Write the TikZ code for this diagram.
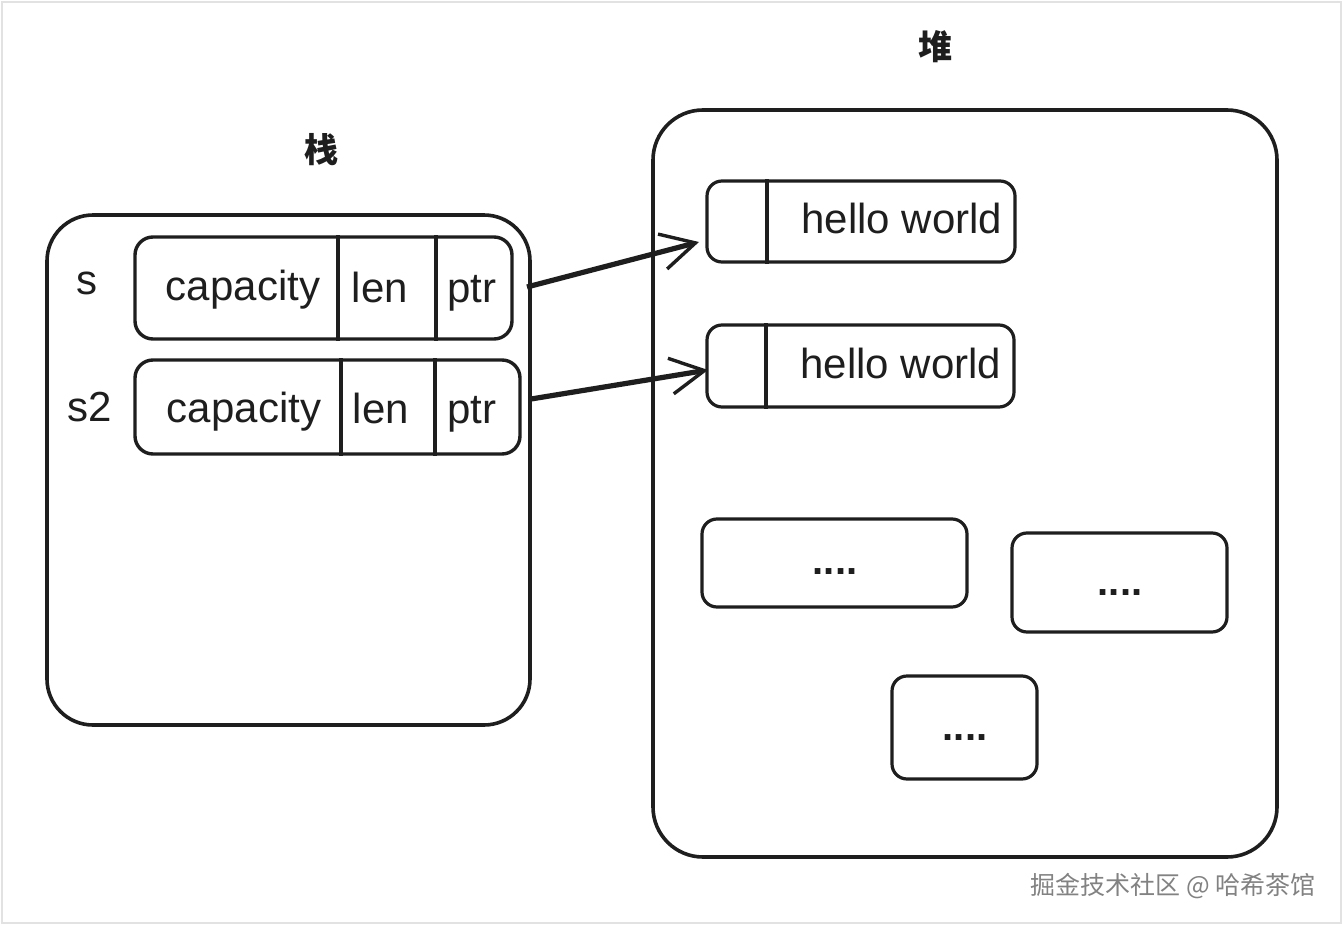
\documentclass[tikz,border=0pt]{standalone}
\usepackage{fontspec}
\setmainfont{Liberation Sans}
\newfontfamily\cjk{Noto Sans CJK SC}
\usetikzlibrary{arrows.meta}
\definecolor{ink}{RGB}{30,30,30}
\definecolor{frame}{RGB}{226,226,226}
\definecolor{wm}{RGB}{130,130,130}
\tikzset{
  big/.style={draw=ink, line width=3.6pt, rounded corners=46pt, inner sep=0pt},
  rowbox/.style={draw=ink, line width=3.4pt, rounded corners=18pt, inner sep=0pt},
  cell/.style={draw=ink, line width=3.2pt, rounded corners=15pt, inner sep=0pt},
  divider/.style={draw=ink, line width=3.2pt},
  lbl/.style={text=ink, font=\fontsize{42}{44}\selectfont, inner sep=0pt, anchor=base},
  dots/.style={text=ink, font=\bfseries\fontsize{40}{42}\selectfont, inner sep=0pt, anchor=base},
  cjklbl/.style={text=ink, font=\cjk\bfseries\fontsize{34}{36}\selectfont, inner sep=0pt},
  ptrarrow/.style={draw=ink, line width=5.2pt, -{Straight Barb[length=34pt,width=36pt,line width=3.4pt]}},
}
\begin{document}
\begin{tikzpicture}[x=1pt,y=-1pt]
\useasboundingbox (0,0) rectangle (1342,926);
\fill[white] (0,0) rectangle (1342,926);
\draw[frame, line width=2pt] (1.5,1.5) rectangle (1340.5,922.5);

% titles
\node[cjklbl] (stackT) at (321,150) {栈};
\node[cjklbl] (heapT) at (935,47) {堆};

% stack and heap
\node[big, minimum width=483pt, minimum height=510pt] (stack) at (288.5,470) {};
\node[big, rounded corners=50pt, minimum width=624pt, minimum height=747pt] (heap) at (965,483.5) {};

% s row
\node[lbl] (sL) at (87,294) {s};
\node[rowbox, minimum width=377pt, minimum height=102pt] (srow) at (323.5,288) {};
\draw[divider] (338,0 |- srow.north) -- (338,0 |- srow.south);
\draw[divider] (436,0 |- srow.north) -- (436,0 |- srow.south);
\node[lbl] (scap) at (243,300) {capacity};
\node[lbl] (slen) at (380,302) {len};
\node[lbl] (sptr) at (472,302) {ptr};

% s2 row
\node[lbl] (s2L) at (90,421) {s2};
\node[rowbox, minimum width=385pt, minimum height=94pt] (s2row) at (327.5,407) {};
\draw[divider] (341,0 |- s2row.north) -- (341,0 |- s2row.south);
\draw[divider] (435,0 |- s2row.north) -- (435,0 |- s2row.south);
\node[lbl] (s2cap) at (244,422) {capacity};
\node[lbl] (s2len) at (381,423) {len};
\node[lbl] (s2ptr) at (472,423) {ptr};

% heap cells
\node[cell, minimum width=308pt, minimum height=81pt] (hw1) at (861,221.5) {};
\draw[divider] (767,0 |- hw1.north) -- (767,0 |- hw1.south);
\node[lbl] (hw1t) at (902,233) {hello world};
\node[cell, minimum width=307pt, minimum height=82pt] (hw2) at (860.5,366) {};
\draw[divider] (766,0 |- hw2.north) -- (766,0 |- hw2.south);
\node[lbl] (hw2t) at (901,378) {hello world};

\node[cell, minimum width=265pt, minimum height=88pt] (d1) at (834.5,563) {};
\node[dots] (d1t) at (835,574) {....};
\node[cell, minimum width=215pt, minimum height=99pt] (d2) at (1119.5,582.5) {};
\node[dots] (d2t) at (1120,595) {....};
\node[cell, minimum width=145pt, minimum height=103pt] (d3) at (964.5,727.5) {};
\node[dots] (d3t) at (965,740) {....};

% pointers
\coordinate (a1s) at (527,287);
\coordinate (a1e) at (699,242);
\coordinate (a2s) at (531,399);
\coordinate (a2e) at (708,370);
\draw[ptrarrow] (a1s) -- (a1e);
\draw[ptrarrow] (a2s) -- (a2e);

% watermark
\node[text=wm, font=\cjk\fontsize{25}{27}\selectfont, inner sep=0pt, anchor=east] (wmark) at (1316,886) {掘金技术社区 @ 哈希茶馆};
\end{tikzpicture}
\end{document}
